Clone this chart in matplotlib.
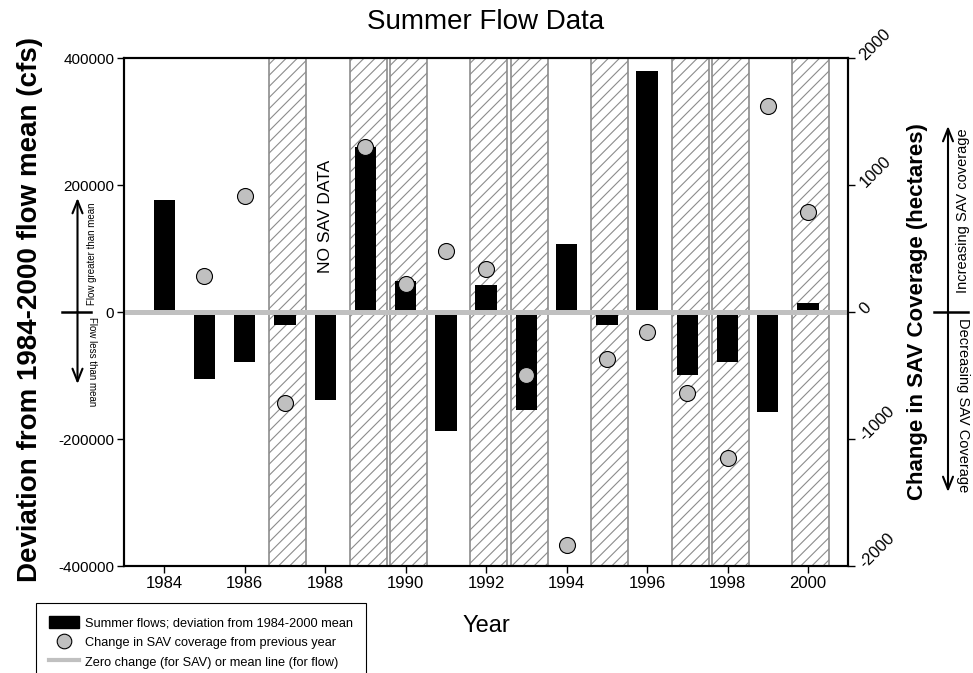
import numpy as np
import matplotlib
matplotlib.use("Agg")
import matplotlib.pyplot as plt
from matplotlib.patches import Patch
from matplotlib.lines import Line2D

plt.rcParams["font.family"] = ["Liberation Sans", "DejaVu Sans"]
plt.rcParams["axes.unicode_minus"] = False
plt.rcParams["hatch.color"] = "#8c8c8c"
plt.rcParams["hatch.linewidth"] = 0.8

YEARS = list(range(1984, 2001))
# summer flow deviation from 1984-2000 mean (cfs)
FLOW = [177000, -105000, -79000, -20000, -139000, 261000, 49000, -187000,
        42000, -154000, 108000, -20000, 380000, -99000, -79000, -157000, 14000]
# change in SAV coverage from previous year (hectares), no data for 1984/1988
SAV = [np.nan, 288, 918, -717, np.nan, 1304, 220, 483, 339, -499, -1832,
       -370, -157, -638, -1150, 1624, 787]
HATCH_YEARS = [1987, 1989, 1990, 1992, 1993, 1995, 1997, 1998, 2000]

LEFT_TICKS = [-400000, -200000, 0, 200000, 400000]
RIGHT_TICKS = [-2000, -1000, 0, 1000, 2000]
X_TICKS = list(range(1984, 2001, 2))

W, H = 973, 673
GRAY = "#c0c0c0"


def fx(px):
    return px / W


def fy(py):
    return 1 - py / H


fig = plt.figure(figsize=(9.73, 6.73), dpi=100)
ax = fig.add_axes([fx(124), fy(566), fx(848.3) - fx(124), fy(58.3) - fy(566)])

for yr in HATCH_YEARS:
    ax.axvspan(yr - 0.39, yr + 0.53, facecolor="none", edgecolor="#8c8c8c",
               hatch="///", lw=1.2, zorder=1)

ax.bar(YEARS, FLOW, width=0.53, color="black", zorder=2)
ax.axhline(0, color=GRAY, lw=3.6, zorder=3)

ax.set_xlim(1983, 2001)
ax.set_ylim(-400000, 400000)
ax.set_xticks(X_TICKS)
ax.set_xticklabels([str(x) for x in X_TICKS], fontsize=12)
ax.set_yticks(LEFT_TICKS)
ax.set_yticklabels([str(v) for v in LEFT_TICKS], fontsize=11)
ax.tick_params(direction="out", length=5, width=1, pad=2)
for sp in ax.spines.values():
    sp.set_linewidth(1.5)

ax2 = ax.twinx()
ax2.set_ylim(-2000, 2000)
ax2.plot(YEARS, SAV, ls="none", marker="o", ms=11.5, mfc=GRAY, mec="black",
         mew=0.8, zorder=5)
ax2.set_yticks(RIGHT_TICKS)
ax2.set_yticklabels([str(v) for v in RIGHT_TICKS], fontsize=12, rotation=45,
                    rotation_mode="anchor", ha="left", va="center")
ax2.tick_params(direction="out", length=5, width=1, pad=5)
for sp in ax2.spines.values():
    sp.set_linewidth(1.5)

ax.text(1988, 62000, "NO SAV DATA", rotation=90, ha="center", va="bottom",
        fontsize=12.5, zorder=4)

fig.text(fx(486), fy(22), "Summer Flow Data", ha="center", va="center", fontsize=20)
fig.text(fx(486), fy(626), "Year", ha="center", va="center", fontsize=17)
fig.text(fx(30), fy(310), "Deviation from 1984-2000 flow mean (cfs)", rotation=90,
         ha="center", va="center", fontsize=20, fontweight="bold")
fig.text(fx(917), fy(312), "Change in SAV Coverage (hectares)", rotation=90,
         ha="center", va="center", fontsize=16, fontweight="bold")

# direction arrows
arrow = dict(arrowstyle="->,head_length=0.6,head_width=0.24", lw=1.5,
             mutation_scale=15, shrinkA=0, shrinkB=0, color="black")
for x, tip_up, tip_down, x0, x1 in [(77.5, 198, 384, 62, 91), (948, 126, 492, 934, 968)]:
    fig.add_artist(Line2D([fx(x0), fx(x1)], [fy(312), fy(312)], color="black",
                          lw=1.8, transform=fig.transFigure))
    ax.annotate("", xy=(fx(x), fy(tip_up)), xytext=(fx(x), fy(312)),
                xycoords="figure fraction", arrowprops=arrow)
    ax.annotate("", xy=(fx(x), fy(tip_down)), xytext=(fx(x), fy(312)),
                xycoords="figure fraction", arrowprops=arrow)

fig.text(fx(92), fy(305), "Flow greater than mean", rotation=90, ha="center",
         va="bottom", fontsize=7)
fig.text(fx(92), fy(317), "Flow less than mean", rotation=-90, ha="center",
         va="top", fontsize=7)
fig.text(fx(963), fy(293), "Increasing SAV coverage", rotation=90, ha="center",
         va="bottom", fontsize=10.5)
fig.text(fx(963), fy(318), "Decreasing SAV Coverage", rotation=-90, ha="center",
         va="top", fontsize=10.5)

handles = [
    Patch(facecolor="black", edgecolor="black"),
    Line2D([], [], ls="none", marker="o", ms=10.5, mfc=GRAY, mec="black", mew=0.8),
    Line2D([], [], color=GRAY, lw=3),
]
labels = [
    "Summer flows; deviation from 1984-2000 mean",
    "Change in SAV coverage from previous year",
    "Zero change (for SAV) or mean line (for flow)",
]
leg = fig.legend(handles, labels, loc="upper left", bbox_to_anchor=(fx(36), fy(603)),
                 frameon=True, fancybox=False, edgecolor="black", framealpha=1,
                 fontsize=9.2, handlelength=2.35, handleheight=1.15, handletextpad=0.5,
                 labelspacing=0.47, borderpad=1.0, borderaxespad=0)
leg.get_frame().set_linewidth(0.8)

fig.savefig("out.png", dpi=100)
